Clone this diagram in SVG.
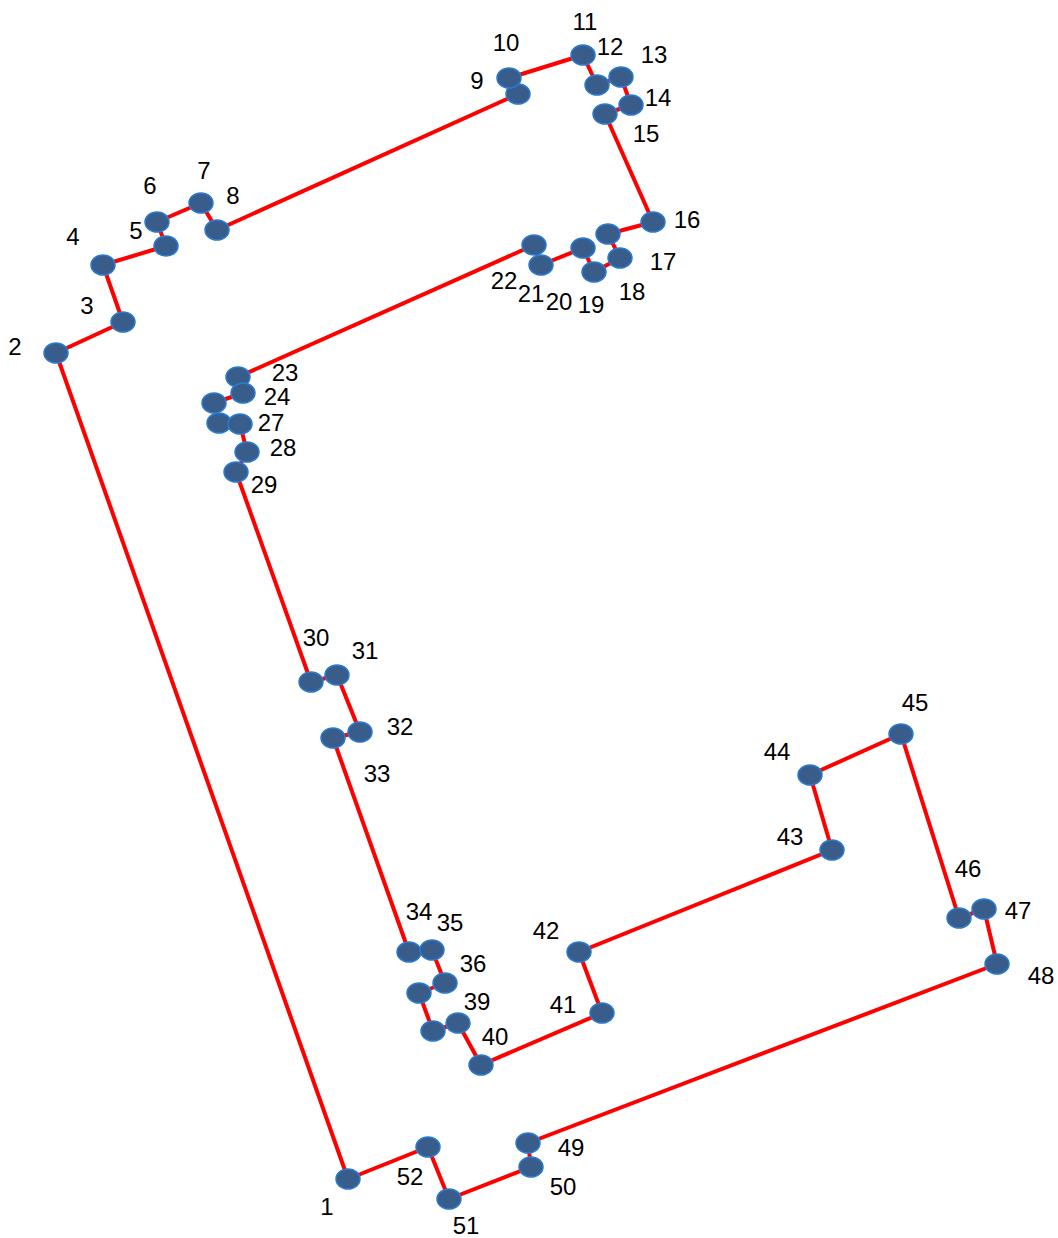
<svg xmlns="http://www.w3.org/2000/svg" width="1058" height="1238" viewBox="0 0 1058 1238">
<style>
.n{fill:#385D8A;stroke:#2A7AD0;stroke-width:1.5}
.c{fill:none;stroke:#FF0000;stroke-width:4;stroke-linejoin:round}
.t{font-family:"Liberation Sans","Open Sans",sans-serif;font-size:24px;fill:#000;text-anchor:middle;dominant-baseline:central}
</style>
<rect width="1058" height="1238" fill="#fff"/>
<g id="connectors">
<polygon class="c" points="348,1179 56,353 123,322 103,265 166,246 157,222 201,203 217,230 518,94 509,78 583,55 597,85 621,77 631,105 605,114 653,222 608,234 620,258 594,272 583,248 541,265 534,245 238,377 243,393 214,403 219,423 240,424 247,452 236,472 311,682 337,675 360,732 333,738 409,952 432,950 445,983 419,993 433,1031 458,1023 481,1065 602,1013 579,952 832,850 810,775 901,734 959,918 984,909 997,964 528,1143 531,1167 449,1199 428,1147"/>
</g>
<g id="node1"><ellipse class="n" cx="348" cy="1179" rx="12" ry="10"/><text class="t" x="327" y="1206">1</text></g>
<g id="node2"><ellipse class="n" cx="56" cy="353" rx="12" ry="10"/><text class="t" x="15" y="346">2</text></g>
<g id="node3"><ellipse class="n" cx="123" cy="322" rx="12" ry="10"/><text class="t" x="87" y="305">3</text></g>
<g id="node4"><ellipse class="n" cx="103" cy="265" rx="12" ry="10"/><text class="t" x="73" y="236">4</text></g>
<g id="node5"><ellipse class="n" cx="166" cy="246" rx="12" ry="10"/><text class="t" x="136" y="230">5</text></g>
<g id="node6"><ellipse class="n" cx="157" cy="222" rx="12" ry="10"/><text class="t" x="150" y="185">6</text></g>
<g id="node7"><ellipse class="n" cx="201" cy="203" rx="12" ry="10"/><text class="t" x="204" y="170">7</text></g>
<g id="node8"><ellipse class="n" cx="217" cy="230" rx="12" ry="10"/><text class="t" x="233" y="195">8</text></g>
<g id="node9"><ellipse class="n" cx="518" cy="94" rx="12" ry="10"/><text class="t" x="477" y="80">9</text></g>
<g id="node10"><ellipse class="n" cx="509" cy="78" rx="12" ry="10"/><text class="t" x="506" y="42">10</text></g>
<g id="node11"><ellipse class="n" cx="583" cy="55" rx="12" ry="10"/><text class="t" x="585" y="21">11</text></g>
<g id="node12"><ellipse class="n" cx="597" cy="85" rx="12" ry="10"/><text class="t" x="610" y="46">12</text></g>
<g id="node13"><ellipse class="n" cx="621" cy="77" rx="12" ry="10"/><text class="t" x="654" y="54">13</text></g>
<g id="node14"><ellipse class="n" cx="631" cy="105" rx="12" ry="10"/><text class="t" x="658" y="97">14</text></g>
<g id="node15"><ellipse class="n" cx="605" cy="114" rx="12" ry="10"/><text class="t" x="646" y="133">15</text></g>
<g id="node16"><ellipse class="n" cx="653" cy="222" rx="12" ry="10"/><text class="t" x="687" y="219">16</text></g>
<g id="node17"><ellipse class="n" cx="608" cy="234" rx="12" ry="10"/><text class="t" x="663" y="261">17</text></g>
<g id="node18"><ellipse class="n" cx="620" cy="258" rx="12" ry="10"/><text class="t" x="632" y="291">18</text></g>
<g id="node19"><ellipse class="n" cx="594" cy="272" rx="12" ry="10"/><text class="t" x="591" y="304">19</text></g>
<g id="node20"><ellipse class="n" cx="583" cy="248" rx="12" ry="10"/><text class="t" x="559" y="301">20</text></g>
<g id="node21"><ellipse class="n" cx="541" cy="265" rx="12" ry="10"/><text class="t" x="531" y="293">21</text></g>
<g id="node22"><ellipse class="n" cx="534" cy="245" rx="12" ry="10"/><text class="t" x="504" y="280">22</text></g>
<g id="node23"><ellipse class="n" cx="238" cy="377" rx="12" ry="10"/><text class="t" x="285" y="372">23</text></g>
<g id="node24"><ellipse class="n" cx="243" cy="393" rx="12" ry="10"/><text class="t" x="277" y="396">24</text></g>
<g id="node25"><ellipse class="n" cx="214" cy="403" rx="12" ry="10"/></g>
<g id="node26"><ellipse class="n" cx="219" cy="423" rx="12" ry="10"/></g>
<g id="node27"><ellipse class="n" cx="240" cy="424" rx="12" ry="10"/><text class="t" x="271" y="422">27</text></g>
<g id="node28"><ellipse class="n" cx="247" cy="452" rx="12" ry="10"/><text class="t" x="283" y="447">28</text></g>
<g id="node29"><ellipse class="n" cx="236" cy="472" rx="12" ry="10"/><text class="t" x="264" y="484">29</text></g>
<g id="node30"><ellipse class="n" cx="311" cy="682" rx="12" ry="10"/><text class="t" x="316" y="637">30</text></g>
<g id="node31"><ellipse class="n" cx="337" cy="675" rx="12" ry="10"/><text class="t" x="365" y="650">31</text></g>
<g id="node32"><ellipse class="n" cx="360" cy="732" rx="12" ry="10"/><text class="t" x="400" y="726">32</text></g>
<g id="node33"><ellipse class="n" cx="333" cy="738" rx="12" ry="10"/><text class="t" x="377" y="773">33</text></g>
<g id="node34"><ellipse class="n" cx="409" cy="952" rx="12" ry="10"/><text class="t" x="419" y="911">34</text></g>
<g id="node35"><ellipse class="n" cx="432" cy="950" rx="12" ry="10"/><text class="t" x="450" y="922">35</text></g>
<g id="node36"><ellipse class="n" cx="445" cy="983" rx="12" ry="10"/><text class="t" x="473" y="963">36</text></g>
<g id="node37"><ellipse class="n" cx="419" cy="993" rx="12" ry="10"/></g>
<g id="node38"><ellipse class="n" cx="433" cy="1031" rx="12" ry="10"/></g>
<g id="node39"><ellipse class="n" cx="458" cy="1023" rx="12" ry="10"/><text class="t" x="477" y="1001">39</text></g>
<g id="node40"><ellipse class="n" cx="481" cy="1065" rx="12" ry="10"/><text class="t" x="495" y="1036">40</text></g>
<g id="node41"><ellipse class="n" cx="602" cy="1013" rx="12" ry="10"/><text class="t" x="563" y="1004">41</text></g>
<g id="node42"><ellipse class="n" cx="579" cy="952" rx="12" ry="10"/><text class="t" x="546" y="930">42</text></g>
<g id="node43"><ellipse class="n" cx="832" cy="850" rx="12" ry="10"/><text class="t" x="790" y="836">43</text></g>
<g id="node44"><ellipse class="n" cx="810" cy="775" rx="12" ry="10"/><text class="t" x="777" y="751">44</text></g>
<g id="node45"><ellipse class="n" cx="901" cy="734" rx="12" ry="10"/><text class="t" x="915" y="702">45</text></g>
<g id="node46"><ellipse class="n" cx="959" cy="918" rx="12" ry="10"/><text class="t" x="968" y="868">46</text></g>
<g id="node47"><ellipse class="n" cx="984" cy="909" rx="12" ry="10"/><text class="t" x="1018" y="910">47</text></g>
<g id="node48"><ellipse class="n" cx="997" cy="964" rx="12" ry="10"/><text class="t" x="1041" y="975">48</text></g>
<g id="node49"><ellipse class="n" cx="528" cy="1143" rx="12" ry="10"/><text class="t" x="571" y="1147">49</text></g>
<g id="node50"><ellipse class="n" cx="531" cy="1167" rx="12" ry="10"/><text class="t" x="563" y="1186">50</text></g>
<g id="node51"><ellipse class="n" cx="449" cy="1199" rx="12" ry="10"/><text class="t" x="466" y="1225">51</text></g>
<g id="node52"><ellipse class="n" cx="428" cy="1147" rx="12" ry="10"/><text class="t" x="410" y="1176">52</text></g>
</svg>
